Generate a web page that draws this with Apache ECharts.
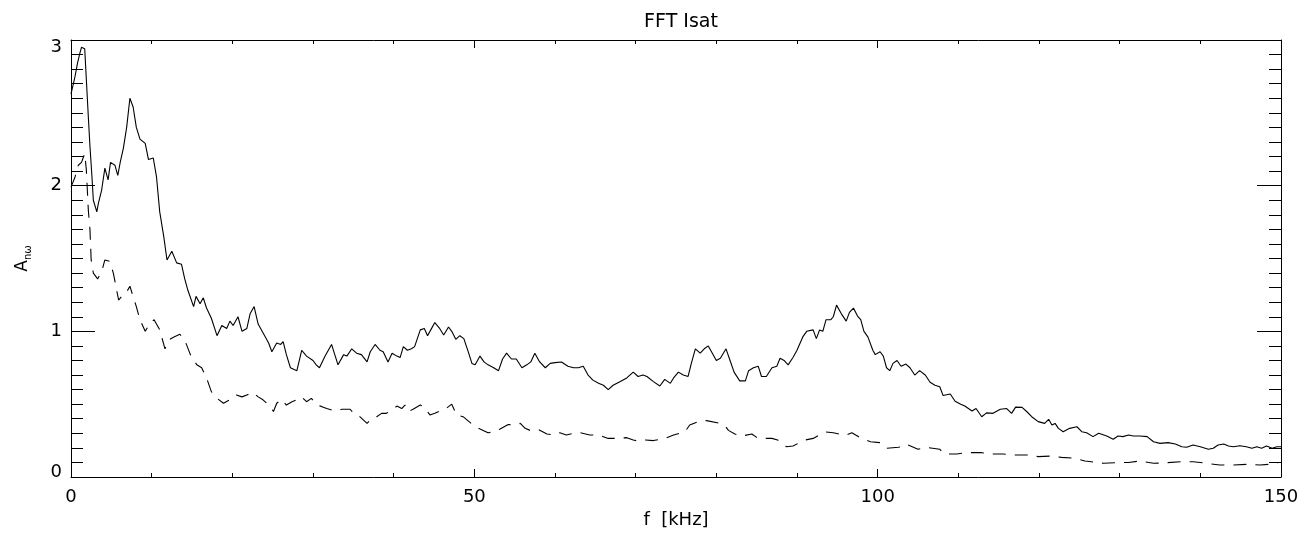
<!DOCTYPE html>
<html>
<head>
<meta charset="utf-8">
<script src="https://cdn.jsdelivr.net/npm/echarts@6/dist/echarts.min.js"></script>
<style>html,body{margin:0;padding:0;background:#fff}#c{width:1313px;height:533px}</style>
</head>
<body>
<div id="c"></div>
<script>
// ---- data ----
const xTicks = [0, 50, 100, 150];
const xMinorStep = 10;
const yTicks = [0, 1, 2, 3];
const yMinorStep = 0.1;

const fSolid = [0,0.3,0.5,0.8,1.1,1.3,1.7,1.9,2.15,2.35,2.6,2.77,3.2,3.4,3.8,4.2,4.6,4.9,5.45,5.8,6.1,6.5,6.9,7.3,7.7,8.1,8.55,9.2,9.6,10.2,10.6,11.0,11.5,11.9,12.5,13.1,13.7,14.1,14.5,15.2,15.5,16.0,16.4,16.8,17.4,18.1,18.7,19.3,19.7,20.1,20.7,21.2,21.8,22.2,22.7,23.2,23.8,24.5,24.9,25.5,26.0,26.3,26.7,27.2,28.0,28.6,29.2,30.0,30.4,30.8,31.5,32.3,32.7,33.1,33.8,34.2,34.8,35.4,36.0,36.7,37.1,37.7,38.3,38.7,39.3,39.8,40.4,40.8,41.2,41.7,42.2,42.6,43.3,43.8,44.2,44.6,45.1,45.7,46.2,46.8,47.2,47.7,48.2,48.7,49.3,49.7,50.1,50.7,51.2,51.7,52.4,53.0,53.5,54.0,54.6,55.2,55.9,56.5,57.0,57.5,58.1,58.8,59.4,60.0,60.8,61.6,62.3,62.9,63.5,64.1,64.7,65.4,66.0,66.6,67.2,68.1,68.9,69.7,70.3,70.9,71.4,72.2,73.0,73.6,74.3,74.7,75.3,75.9,76.5,76.9,77.4,78.0,78.5,79.0,79.4,80.0,80.5,81.2,81.7,82.2,82.9,83.6,84.0,84.6,85.2,85.6,86.2,86.9,87.5,87.9,88.4,88.9,89.5,90.0,90.7,91.2,92.0,92.4,92.8,93.2,93.6,94.2,94.5,94.9,95.5,96.1,96.5,97.0,97.5,97.9,98.3,98.8,99.4,99.7,100.3,100.7,101.1,101.5,101.9,102.4,102.9,103.5,104.0,104.6,105.2,105.9,106.5,107.1,107.7,108.1,109.0,109.6,110.3,110.8,111.7,112.2,112.9,113.5,114.3,115.2,116.0,116.6,117.1,117.9,118.5,119.1,119.9,120.7,121.2,121.6,122.0,122.4,123.0,123.8,124.7,125.3,125.9,126.7,127.4,128.4,129.2,129.8,130.4,131.1,131.7,132.5,133.4,134.2,135.0,136.0,136.9,137.7,138.3,139.1,140.0,141.0,141.6,142.2,142.9,143.5,144.1,144.9,145.7,146.4,147.0,147.6,148.2,148.9,149.5,150];
const aSolid = [2.63,2.70,2.75,2.84,2.91,2.95,2.94,2.73,2.47,2.27,2.06,1.90,1.82,1.88,1.97,2.12,2.04,2.16,2.14,2.07,2.16,2.26,2.40,2.60,2.54,2.40,2.32,2.29,2.18,2.19,2.06,1.82,1.65,1.49,1.55,1.47,1.46,1.36,1.28,1.17,1.24,1.19,1.23,1.16,1.09,0.97,1.04,1.02,1.07,1.04,1.10,1.00,1.02,1.12,1.17,1.05,0.99,0.92,0.86,0.92,0.91,0.93,0.84,0.75,0.73,0.87,0.83,0.80,0.77,0.75,0.83,0.91,0.84,0.77,0.84,0.83,0.88,0.85,0.84,0.79,0.86,0.91,0.87,0.86,0.79,0.85,0.83,0.82,0.895,0.87,0.88,0.895,1.01,1.02,0.97,1.01,1.06,1.02,0.975,1.03,1.00,0.945,0.97,0.95,0.85,0.78,0.77,0.83,0.79,0.77,0.75,0.73,0.81,0.85,0.81,0.81,0.75,0.77,0.79,0.85,0.79,0.75,0.78,0.785,0.79,0.76,0.75,0.75,0.76,0.70,0.665,0.643,0.63,0.60,0.63,0.655,0.68,0.72,0.69,0.70,0.69,0.655,0.625,0.67,0.643,0.68,0.72,0.70,0.69,0.78,0.88,0.85,0.88,0.90,0.86,0.80,0.815,0.88,0.80,0.72,0.66,0.66,0.73,0.75,0.76,0.69,0.69,0.75,0.76,0.815,0.80,0.77,0.82,0.87,0.96,1.00,1.01,0.95,1.01,1.00,1.08,1.08,1.10,1.18,1.12,1.07,1.13,1.16,1.105,1.08,1.00,0.96,0.87,0.84,0.86,0.83,0.75,0.73,0.78,0.80,0.76,0.775,0.75,0.70,0.73,0.70,0.65,0.63,0.62,0.56,0.57,0.52,0.50,0.487,0.453,0.47,0.414,0.44,0.437,0.465,0.47,0.437,0.48,0.478,0.448,0.414,0.38,0.368,0.396,0.357,0.368,0.334,0.311,0.334,0.345,0.311,0.304,0.277,0.30,0.281,0.259,0.281,0.277,0.288,0.281,0.281,0.277,0.242,0.231,0.236,0.227,0.208,0.204,0.22,0.208,0.19,0.197,0.22,0.227,0.213,0.208,0.215,0.208,0.197,0.208,0.197,0.213,0.197,0.208,0.208];

const fDashed = [0,0.5,0.9,1.3,1.7,1.9,2.15,2.35,2.5,2.77,3.3,3.8,4.2,4.8,5.25,5.9,6.3,6.8,7.3,7.7,8.1,8.55,9.2,9.8,10.3,11.0,11.65,12.1,12.7,13.5,14.1,14.8,15.6,16.2,16.8,17.4,18.1,18.9,19.7,20.5,21.2,21.8,22.6,23.2,23.8,24.5,25.1,25.5,26.1,26.7,27.4,28.0,28.6,29.2,29.8,30.5,31.1,31.7,32.7,33.6,34.6,35.2,35.8,36.7,37.3,37.9,38.5,39.1,39.8,40.4,41.0,41.4,41.8,42.4,43.3,43.7,44.5,45.1,45.7,46.4,46.8,47.2,47.8,48.6,49.5,50.1,51.1,51.7,52.4,53.2,54.2,55.0,55.7,56.3,56.9,57.9,59.0,60.0,60.6,61.4,62.3,63.1,64.3,65.4,66.6,67.4,68.9,69.7,70.3,71.2,72.2,73.6,74.7,76.1,76.7,77.8,78.8,80.5,81.1,81.5,82.3,83.1,84.4,85.0,85.6,86.9,87.6,88.7,89.5,91.0,92.0,93.5,94.5,96.0,96.8,98.0,99.1,100.3,101.1,102.6,103.6,105.0,105.9,107.7,108.3,109.8,111.0,112.9,113.9,115.6,116.8,118.7,119.9,121.6,122.8,124.5,125.7,126.5,128.0,129.4,131.1,132.5,134.2,135.8,137.7,139.1,140.8,142.4,144.1,145.7,147.4,148.9,149.6];
const aDashed = [1.99,2.06,2.14,2.16,2.22,2.11,1.83,1.70,1.49,1.40,1.36,1.41,1.49,1.48,1.40,1.215,1.24,1.26,1.31,1.24,1.17,1.08,1.00,1.055,1.08,1.01,0.88,0.94,0.96,0.98,0.94,0.84,0.77,0.75,0.68,0.586,0.54,0.506,0.53,0.563,0.55,0.563,0.58,0.55,0.53,0.494,0.45,0.506,0.533,0.494,0.517,0.53,0.55,0.517,0.54,0.494,0.483,0.47,0.453,0.465,0.465,0.426,0.414,0.368,0.403,0.414,0.437,0.437,0.46,0.487,0.47,0.494,0.448,0.465,0.494,0.483,0.426,0.437,0.453,0.465,0.483,0.50,0.426,0.414,0.373,0.345,0.32,0.304,0.31,0.33,0.36,0.357,0.368,0.334,0.32,0.327,0.295,0.288,0.304,0.288,0.30,0.304,0.288,0.288,0.265,0.265,0.27,0.254,0.247,0.254,0.25,0.265,0.288,0.31,0.357,0.38,0.387,0.368,0.35,0.32,0.295,0.281,0.295,0.272,0.265,0.265,0.254,0.208,0.213,0.254,0.265,0.31,0.304,0.286,0.304,0.265,0.242,0.236,0.197,0.204,0.224,0.19,0.204,0.19,0.158,0.158,0.167,0.167,0.158,0.158,0.151,0.151,0.14,0.144,0.135,0.128,0.11,0.105,0.094,0.098,0.10,0.11,0.094,0.098,0.105,0.105,0.094,0.082,0.082,0.087,0.082,0.089,0.098];

// ---- chart ----
const FONT = 'DejaVu Sans';
const solidData = fSolid.map((f, i) => [f, aSolid[i]]);
const dashedData = fDashed.map((f, i) => [f, aDashed[i]]);
const xMin = xTicks[0], xMax = xTicks[xTicks.length - 1], xInt = xTicks[1] - xTicks[0];
const yMin = yTicks[0], yMax = yTicks[yTicks.length - 1], yInt = yTicks[1] - yTicks[0];

const noSplit = { show: false };
function axLine(draw) {
  return { show: !!draw, onZero: false, lineStyle: { color: '#000', width: 1 } };
}

function xAx(pos, interval, tickLen, labels, drawLine) {
  const a = { type: 'value', position: pos, min: xMin, max: xMax, interval: interval,
    axisLine: axLine(drawLine),
    axisTick: { show: true, inside: true, length: tickLen, lineStyle: { color: '#000', width: 1 } },
    axisLabel: { show: false }, splitLine: noSplit };
  if (labels) {
    a.axisLabel = { show: true, color: '#000', fontSize: 18, fontFamily: FONT, margin: 11 };
    a.name = 'f  [kHz]'; a.nameLocation = 'middle'; a.nameGap = 31;
    a.nameTextStyle = { color: '#000', fontSize: 18, fontFamily: FONT };
  }
  return a;
}
function yAx(pos, interval, tickLen, labels, drawLine) {
  const a = { type: 'value', position: pos, min: yMin, max: yMax, interval: interval,
    axisLine: axLine(drawLine),
    axisTick: { show: true, inside: true, length: tickLen, lineStyle: { color: '#000', width: 1 } },
    axisLabel: { show: false }, splitLine: noSplit };
  if (labels) {
    a.axisLabel = { show: true, color: '#000', fontSize: 18, fontFamily: FONT, margin: 9,
      formatter: v => v === yMax ? '{t|' + v + '}' : (v === yMin ? '{b|' + v + '}' : '{n|' + v + '}'),
      rich: { t: { fontSize: 18, fontFamily: FONT, padding: [14, 0, 0, 0] },
              b: { fontSize: 18, fontFamily: FONT, padding: [0, 0, 10, 0] },
              n: { fontSize: 18, fontFamily: FONT } } };
    a.name = '{a|A}{s|nω}';
    a.nameLocation = 'middle';
    a.nameRotate = 90;
    a.nameGap = 38;
    a.nameTextStyle = { color: '#000', fontFamily: FONT,
      rich: { a: { fontSize: 17, fontFamily: FONT, color: '#000' },
              s: { fontSize: 10, fontFamily: FONT, color: '#000', padding: [10, 0, 0, 0] } } };
  }
  return a;
}

const chart = echarts.init(document.getElementById('c'), null, { renderer: 'canvas' });
chart.setOption({
  animation: false,
  backgroundColor: '#fff',
  grid: { left: 71, right: 32, top: 40, bottom: 56, containLabel: false, outerBoundsMode: 'none' },
  title: { text: 'FFT Isat', left: 676, top: 8, textAlign: 'center',
    textStyle: { color: '#000', fontSize: 19, fontWeight: 'normal', fontFamily: FONT } },
  xAxis: [
    xAx('bottom', xInt, 8, true, true),
    xAx('top', xInt, 8, false, true),
    xAx('bottom', xMinorStep, 4, false, false),
    xAx('top', xMinorStep, 4, false, false)
  ],
  yAxis: [
    yAx('left', yInt, 24, true, true),
    yAx('right', yInt, 24, false, true),
    yAx('left', yMinorStep, 12, false, false),
    yAx('right', yMinorStep, 12, false, false)
  ],
  series: [
    { name: 'solid', type: 'line', xAxisIndex: 0, yAxisIndex: 0, data: solidData,
      showSymbol: false, symbol: 'none', lineStyle: { color: '#000', width: 1.1 }, silent: true },
    { name: 'dashed', type: 'line', xAxisIndex: 0, yAxisIndex: 0, data: dashedData,
      showSymbol: false, symbol: 'none', lineStyle: { color: '#000', width: 1.1, type: [13, 9] }, silent: true },
    { type: 'line', xAxisIndex: 1, yAxisIndex: 1, data: [], silent: true },
    { type: 'line', xAxisIndex: 2, yAxisIndex: 2, data: [], silent: true },
    { type: 'line', xAxisIndex: 3, yAxisIndex: 3, data: [], silent: true }
  ]
});
</script>
</body>
</html>
